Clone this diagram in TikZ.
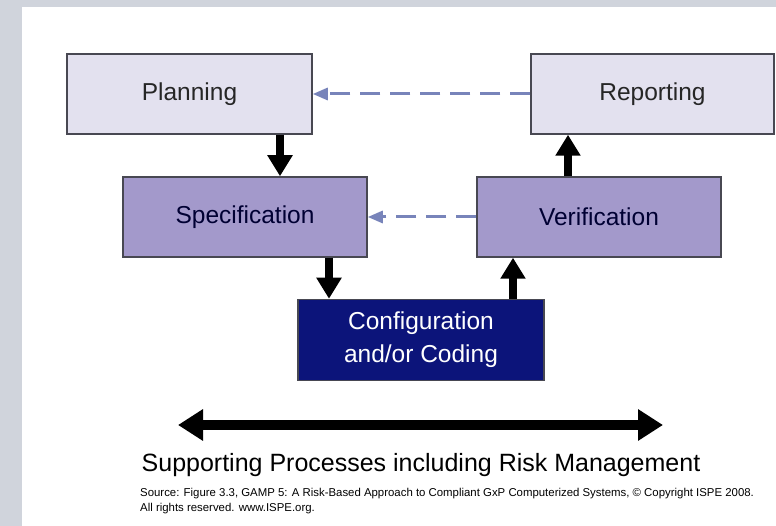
\documentclass[tikz,border=0pt]{standalone}
\usepackage{fontspec}
\setmainfont{Liberation Sans}
\usepackage{tikz}
\usetikzlibrary{positioning,arrows.meta}

\definecolor{bggray}{RGB}{208,212,220}
\definecolor{lightbox}{RGB}{227,225,239}
\definecolor{midbox}{RGB}{163,153,203}
\definecolor{darkbox}{RGB}{12,20,122}
\definecolor{dashc}{RGB}{120,132,186}
\definecolor{edgec}{RGB}{72,72,82}

\begin{document}
\begin{tikzpicture}[
    x=1pt, y=-1pt,
    font=\fontsize{24.5}{33}\selectfont,
    phase/.style={draw=edgec, line width=1.5pt, align=center, minimum width=244pt, minimum height=80pt, inner sep=0pt},
    outer/.style={phase, fill=lightbox, text=black!85},
    inner/.style={phase, fill=midbox, text=black!80!blue},
    core/.style={phase, fill=darkbox, text=white, minimum height=81pt},
    flow/.style={-{Triangle[width=24pt, length=21pt]}, line width=8pt, black},
    feedback/.style={-{Triangle[width=12pt, length=15pt]}, line width=3pt, dashc, dash pattern=on 20pt off 10pt},
    span/.style={{Triangle[width=30pt, length=25pt]}-{Triangle[width=30pt, length=25pt]}, line width=10pt, black}
]

% Background and page
\fill[bggray] (0,0) rectangle (776,526);
\fill[white] (22,7) rectangle (776,526);
\useasboundingbox (0,0) rectangle (776,526);

% Phases
\node[outer, minimum width=245pt] (plan) at (189.5,94) {Planning};
\node[outer, minimum width=243pt] (report) at (652.5,94) {Reporting};
\node[inner] (spec) at (245,217) {Specification};
\node[inner] (verif) at (599,217) {Verification};
\node[core, minimum width=246pt] (config) at (421,340) {Configuration\\and/or Coding};

% Main flow
\draw[flow] ([xshift=90.5pt]plan.south) -- ([xshift=35pt]spec.north);
\draw[flow] ([xshift=84pt]spec.south) -- ([xshift=-92pt]config.north);
\draw[flow] ([xshift=92pt]config.north) -- ([xshift=-86pt]verif.south);
\draw[flow] ([xshift=-31pt]verif.north) -- ([xshift=-84.5pt]report.south);

% Feedback
\draw[feedback] (report.west) -- (plan.east);
\draw[feedback] (verif.west) -- (spec.east);

% Supporting processes
\coordinate (sleft) at (178,425);
\coordinate (sright) at (663,425);
\draw[span] (sleft) -- (sright);
\node[font=\fontsize{25}{30}\selectfont] (support) at (421,465) {Supporting Processes including Risk Management};

% Source note
\node[font=\fontsize{11.4}{15.5}\selectfont, align=left, anchor=north west, inner sep=0pt] (source) at (140,488)
  {Source: Figure 3.3, GAMP 5: A Risk-Based Approach to Compliant GxP Computerized Systems, \textcopyright{} Copyright ISPE 2008.\\All rights reserved. www.ISPE.org.};

\end{tikzpicture}
\end{document}
